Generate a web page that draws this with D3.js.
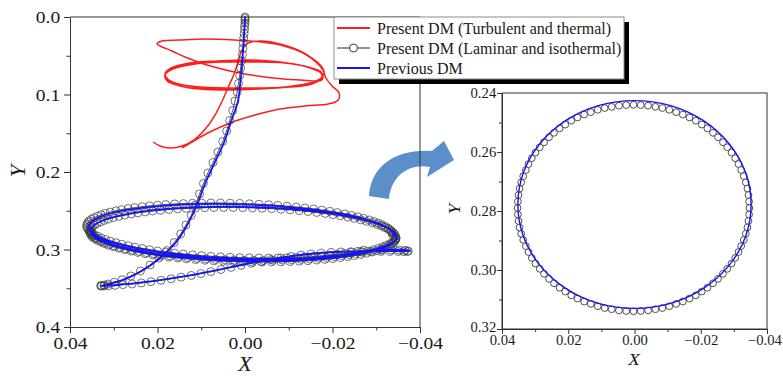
<!DOCTYPE html>
<html>
<head>
<meta charset="utf-8">
<script src="https://cdn.jsdelivr.net/npm/d3@7"></script>
<style>
  body { margin: 0; background: #fff; }
</style>
</head>
<body>
<svg id="chart" width="783" height="377"></svg>
<script>
// ---------- data ----------
// Present DM, laminar & isothermal: full trajectory (left panel)
const laminarPath = [
  [0.0000,0.0000],[0.0000,0.0019],[0.0000,0.0045],[0.0000,0.0077],[0.0001,0.0116],[0.0001,0.0161],[0.0002,0.0213],[0.0003,0.0271],
  [0.0004,0.0335],[0.0005,0.0406],[0.0006,0.0484],[0.0008,0.0568],[0.0010,0.0658],[0.0012,0.0755],[0.0015,0.0858],[0.0018,0.0968],
  [0.0023,0.1084],[0.0028,0.1206],[0.0035,0.1335],[0.0042,0.1471],[0.0051,0.1606],[0.0062,0.1742],[0.0073,0.1877],[0.0085,0.2013],
  [0.0095,0.2148],[0.0104,0.2284],[0.0113,0.2426],[0.0123,0.2561],[0.0135,0.2684],[0.0147,0.2800],[0.0162,0.2910],[0.0178,0.3013],
  [0.0197,0.3110],[0.0217,0.3200],[0.0239,0.3277],[0.0261,0.3342],[0.0281,0.3391],[0.0299,0.3423],[0.0313,0.3445],[0.0322,0.3458],
  [0.0328,0.3465],[0.0330,0.3468],[0.0328,0.3471],[0.0322,0.3471],[0.0312,0.3468],[0.0297,0.3463],
  [0.0279,0.3453],[0.0258,0.3445],[0.0237,0.3432],[0.0215,0.3415],[0.0192,0.3397],[0.0169,0.3378],[0.0146,0.3357],[0.0123,0.3335],
  [0.0101,0.3311],[0.0078,0.3285],[0.0055,0.3258],[0.0032,0.3231],[0.0009,0.3204],[-0.0014,0.3178],[-0.0037,0.3154],[-0.0059,0.3130],
  [-0.0082,0.3110],[-0.0105,0.3090],[-0.0128,0.3073],[-0.0151,0.3059],[-0.0174,0.3047],[-0.0197,0.3039],[-0.0219,0.3032],[-0.0242,0.3028],
  [-0.0265,0.3026],[-0.0288,0.3025],[-0.0311,0.3025],[-0.0331,0.3025],[-0.0350,0.3026],[-0.0363,0.3027],[-0.0371,0.3026],[-0.0373,0.3019],
  [-0.0366,0.3010],[-0.0352,0.3006],[-0.0334,0.3006],[-0.0313,0.3006],
  [-0.0271,0.3010],[-0.0258,0.3024],[-0.0243,0.3039],[-0.0228,0.3051],[-0.0211,0.3063],[-0.0194,0.3073],[-0.0176,0.3083],[-0.0157,0.3091],
  [-0.0137,0.3098],[-0.0117,0.3102],[-0.0096,0.3107],[-0.0075,0.3109],[-0.0054,0.3110],[-0.0032,0.3110],[-0.0010,0.3108],[0.0012,0.3105],
  [0.0034,0.3100],[0.0056,0.3094],[0.0078,0.3088],[0.0099,0.3079],[0.0120,0.3069],[0.0141,0.3058],[0.0161,0.3046],[0.0181,0.3033],
  [0.0200,0.3019],[0.0218,0.3003],[0.0235,0.2987],[0.0252,0.2969],[0.0267,0.2951],[0.0282,0.2932],[0.0295,0.2912],[0.0308,0.2892],
  [0.0319,0.2871],[0.0329,0.2850],[0.0337,0.2828],[0.0345,0.2806],[0.0351,0.2784],[0.0356,0.2762],[0.0359,0.2739],[0.0361,0.2717],
  [0.0362,0.2695],[0.0361,0.2673],[0.0359,0.2651],[0.0356,0.2630],[0.0351,0.2610],[0.0345,0.2590],[0.0337,0.2570],[0.0329,0.2552],
  [0.0319,0.2533],[0.0308,0.2517],[0.0295,0.2500],[0.0282,0.2486],[0.0267,0.2471],[0.0252,0.2459],[0.0235,0.2447],[0.0218,0.2437],
  [0.0200,0.2428],[0.0181,0.2419],[0.0161,0.2412],[0.0141,0.2408],[0.0120,0.2403],[0.0099,0.2401],[0.0078,0.2400],[0.0056,0.2400],
  [0.0034,0.2402],[0.0012,0.2405],[-0.0010,0.2410],[-0.0032,0.2416],[-0.0054,0.2422],[-0.0075,0.2431],[-0.0096,0.2441],[-0.0117,0.2452],
  [-0.0137,0.2464],[-0.0157,0.2477],[-0.0176,0.2492],[-0.0194,0.2507],[-0.0211,0.2523],[-0.0228,0.2541],[-0.0243,0.2559],[-0.0258,0.2578],
  [-0.0271,0.2598],[-0.0284,0.2619],[-0.0295,0.2639],[-0.0305,0.2660],[-0.0313,0.2682],[-0.0321,0.2704],[-0.0327,0.2726],[-0.0332,0.2748],
  [-0.0335,0.2771],[-0.0337,0.2793],[-0.0338,0.2815],
  [-0.0345,0.2850],[-0.0344,0.2872],[-0.0342,0.2894],[-0.0339,0.2915],[-0.0334,0.2936],[-0.0328,0.2956],[-0.0320,0.2976],[-0.0312,0.2995],
  [-0.0302,0.3014],[-0.0291,0.3032],[-0.0278,0.3048],[-0.0265,0.3064],[-0.0250,0.3079],[-0.0235,0.3092],[-0.0218,0.3105],[-0.0201,0.3117],
  [-0.0183,0.3127],[-0.0164,0.3136],[-0.0144,0.3144],[-0.0124,0.3150],[-0.0103,0.3155],[-0.0082,0.3159],[-0.0061,0.3161],[-0.0039,0.3162],
  [-0.0017,0.3162],[0.0005,0.3160],[0.0027,0.3156],[0.0049,0.3152],[0.0071,0.3147],[0.0092,0.3139],[0.0113,0.3131],[0.0134,0.3120],
  [0.0154,0.3110],[0.0174,0.3098],[0.0193,0.3085],[0.0211,0.3069],[0.0228,0.3055],[0.0245,0.3038],[0.0260,0.3021],[0.0275,0.3002],
  [0.0288,0.2984],[0.0301,0.2964],[0.0312,0.2944],[0.0322,0.2923],[0.0330,0.2902],[0.0338,0.2880],[0.0344,0.2858],[0.0349,0.2837],
  [0.0352,0.2814],[0.0354,0.2792],[0.0355,0.2770],[0.0354,0.2748],[0.0352,0.2726],[0.0349,0.2705],[0.0344,0.2684],[0.0338,0.2664],
  [0.0330,0.2644],[0.0322,0.2625],[0.0312,0.2606],[0.0301,0.2589],[0.0288,0.2572],[0.0275,0.2556],[0.0260,0.2541],[0.0245,0.2528],
  [0.0228,0.2515],[0.0211,0.2503],[0.0193,0.2494],[0.0174,0.2484],[0.0154,0.2476],[0.0134,0.2470],[0.0113,0.2465],[0.0092,0.2461],
  [0.0071,0.2459],[0.0049,0.2458],[0.0027,0.2458],[0.0005,0.2460],[-0.0017,0.2464],[-0.0039,0.2468],[-0.0061,0.2473],[-0.0082,0.2481],
  [-0.0103,0.2489],[-0.0124,0.2500],[-0.0144,0.2510],[-0.0164,0.2522],[-0.0183,0.2535],[-0.0201,0.2551],[-0.0218,0.2565],[-0.0235,0.2582],
  [-0.0250,0.2599],[-0.0265,0.2618],[-0.0278,0.2636],[-0.0291,0.2656],[-0.0302,0.2676],[-0.0312,0.2697],[-0.0320,0.2718],[-0.0328,0.2740],
  [-0.0334,0.2762],[-0.0339,0.2783],[-0.0342,0.2806],[-0.0344,0.2828],[-0.0345,0.2850],
  [-0.0345,0.2864],[-0.0342,0.2885],[-0.0337,0.2906],[-0.0331,0.2927],[-0.0323,0.2947],[-0.0315,0.2966],[-0.0305,0.2985],[-0.0294,0.3003],
  [-0.0281,0.3020],[-0.0268,0.3036],[-0.0253,0.3052],[-0.0238,0.3066],[-0.0221,0.3079],[-0.0204,0.3091],[-0.0186,0.3102],[-0.0167,0.3111],
  [-0.0147,0.3120],[-0.0127,0.3126],[-0.0106,0.3132],[-0.0085,0.3136],[-0.0064,0.3139],[-0.0042,0.3141],[-0.0020,0.3141],[0.0002,0.3140],
  [0.0024,0.3137],[0.0046,0.3133],[0.0068,0.3129],[0.0089,0.3122],[0.0110,0.3114],[0.0131,0.3104],[0.0151,0.3094],[0.0171,0.3083],
  [0.0190,0.3070],[0.0208,0.3055],[0.0225,0.3041],[0.0242,0.3024],[0.0257,0.3008],[0.0272,0.2990],[0.0285,0.2972],[0.0298,0.2953],
  [0.0309,0.2933],[0.0319,0.2912],[0.0327,0.2891],[0.0335,0.2869],[0.0341,0.2848],[0.0346,0.2827],[0.0349,0.2804],[0.0351,0.2782],
  [0.0352,0.2760]
];

// Previous DM: full trajectory (left panel)
const previousPath = [
  [0.0000,0.0000],[0.0000,0.0045],[0.0001,0.0116],[0.0002,0.0213],[0.0003,0.0335],[0.0005,0.0484],[0.0007,0.0658],[0.0011,0.0858],
  [0.0016,0.1084],[0.0031,0.1335],[0.0047,0.1606],[0.0069,0.1877],[0.0091,0.2148],[0.0110,0.2426],[0.0132,0.2684],[0.0158,0.2910],
  [0.0194,0.3110],[0.0236,0.3277],[0.0278,0.3391],[0.0310,0.3445],[0.0326,0.3465],[0.0329,0.3470],[0.0320,0.3467],
  [0.0297,0.3459],[0.0258,0.3441],[0.0215,0.3411],[0.0169,0.3374],[0.0123,0.3331],[0.0078,0.3281],[0.0032,0.3227],[-0.0014,0.3174],
  [-0.0059,0.3126],[-0.0105,0.3086],[-0.0151,0.3055],[-0.0197,0.3035],[-0.0242,0.3024],[-0.0288,0.3021],[-0.0331,0.3021],[-0.0363,0.3022],
  [-0.0378,0.3018],[-0.0370,0.3008],[-0.0345,0.3003],[-0.0310,0.3003],
  [-0.0275,0.3022],[-0.0247,0.3051],[-0.0215,0.3075],[-0.0180,0.3095],[-0.0141,0.3110],[-0.0100,0.3119],[-0.0058,0.3122],[-0.0014,0.3120],
  [0.0030,0.3112],[0.0074,0.3100],[0.0116,0.3081],[0.0157,0.3058],[0.0196,0.3031],[0.0231,0.2999],[0.0263,0.2963],[0.0291,0.2924],
  [0.0315,0.2883],[0.0333,0.2840],[0.0347,0.2796],[0.0355,0.2751],[0.0358,0.2707],[0.0355,0.2663],[0.0347,0.2622],[0.0333,0.2582],
  [0.0315,0.2545],[0.0291,0.2512],[0.0263,0.2483],[0.0231,0.2459],[0.0196,0.2440],[0.0157,0.2424],[0.0116,0.2415],[0.0074,0.2412],
  [0.0030,0.2414],[-0.0014,0.2422],[-0.0058,0.2434],[-0.0100,0.2453],[-0.0141,0.2476],[-0.0180,0.2504],[-0.0215,0.2535],[-0.0247,0.2571],
  [-0.0275,0.2610],[-0.0299,0.2651],[-0.0317,0.2694],[-0.0331,0.2738],[-0.0339,0.2783],[-0.0342,0.2827],
  [-0.0347,0.2840],[-0.0344,0.2884],[-0.0336,0.2926],[-0.0322,0.2966],[-0.0304,0.3004],[-0.0280,0.3038],[-0.0252,0.3069],[-0.0220,0.3095],
  [-0.0185,0.3117],[-0.0146,0.3134],[-0.0105,0.3145],[-0.0063,0.3151],[-0.0019,0.3152],[0.0025,0.3146],[0.0069,0.3137],[0.0111,0.3121],
  [0.0152,0.3100],[0.0191,0.3075],[0.0226,0.3045],[0.0258,0.3011],[0.0286,0.2974],[0.0310,0.2934],[0.0328,0.2892],[0.0342,0.2848],
  [0.0350,0.2804],[0.0353,0.2760],[0.0350,0.2716],[0.0342,0.2674],[0.0328,0.2634],[0.0310,0.2596],[0.0286,0.2562],[0.0258,0.2531],
  [0.0226,0.2505],[0.0191,0.2484],[0.0152,0.2466],[0.0111,0.2455],[0.0069,0.2449],[0.0025,0.2448],[-0.0019,0.2454],[-0.0063,0.2463],
  [-0.0105,0.2479],[-0.0146,0.2500],[-0.0185,0.2525],[-0.0220,0.2555],[-0.0252,0.2589],[-0.0280,0.2626],[-0.0304,0.2666],[-0.0322,0.2708],
  [-0.0336,0.2752],[-0.0344,0.2796],[-0.0347,0.2840],
  [-0.0348,0.2858],[-0.0340,0.2900],[-0.0326,0.2941],[-0.0308,0.2979],[-0.0284,0.3014],[-0.0256,0.3046],[-0.0224,0.3073],[-0.0189,0.3096],
  [-0.0150,0.3114],[-0.0109,0.3126],[-0.0067,0.3133],[-0.0023,0.3135],[0.0021,0.3131],[0.0065,0.3123],[0.0107,0.3108],[0.0148,0.3088],
  [0.0187,0.3064],[0.0222,0.3035],[0.0254,0.3002],[0.0282,0.2966],[0.0306,0.2927],[0.0324,0.2885],[0.0338,0.2842],[0.0346,0.2798],
  [0.0349,0.2754]
];

// Present DM, turbulent & thermal (left panel)
const turbulentPath = [
  [0.0210,0.1613],[0.0194,0.1665],[0.0171,0.1690],[0.0144,0.1665],[0.0114,0.1574],[0.0087,0.1419],[0.0066,0.1239],[0.0050,0.1058],
  [0.0037,0.0890],[0.0025,0.0735],[0.0016,0.0581],[0.0009,0.0452],[0.0000,0.0361],[-0.0014,0.0323],[-0.0039,0.0310],
  [-0.0080,0.0348],[-0.0121,0.0426],[-0.0153,0.0529],[-0.0174,0.0632],[-0.0181,0.0723],[-0.0171,0.0800],
  [-0.0137,0.0865],[-0.0091,0.0903],[-0.0034,0.0929],[0.0030,0.0929],[0.0091,0.0916],[0.0142,0.0877],[0.0174,0.0813],[0.0183,0.0735],
  [0.0169,0.0658],[0.0126,0.0594],[0.0062,0.0568],[-0.0011,0.0555],[-0.0080,0.0581],[-0.0135,0.0632],[-0.0169,0.0697],[-0.0176,0.0774],
  [-0.0149,0.0852],[-0.0098,0.0903],[-0.0030,0.0929],[0.0039,0.0942],[0.0103,0.0929],[0.0149,0.0890],[0.0178,0.0826],[0.0183,0.0748],
  [0.0165,0.0671],[0.0114,0.0606],[0.0046,0.0581],[-0.0025,0.0581],[-0.0091,0.0594],[-0.0144,0.0645],[-0.0174,0.0710],[-0.0176,0.0787],
  [-0.0153,0.0865],[-0.0103,0.0903],[-0.0034,0.0916],[0.0034,0.0916],[0.0103,0.0903],[0.0153,0.0865],[0.0181,0.0800],[0.0181,0.0723],
  [0.0158,0.0645],[0.0107,0.0594],[0.0039,0.0568],[-0.0030,0.0568],[-0.0096,0.0594],[-0.0149,0.0658],[-0.0176,0.0735],
  [-0.0176,0.0813],[-0.0126,0.0813],[-0.0064,0.0787],[0.0011,0.0723],[0.0087,0.0619],[0.0137,0.0516],[0.0167,0.0439],[0.0194,0.0374],
  [0.0201,0.0348],[0.0190,0.0310],[0.0149,0.0297],[0.0091,0.0284],[0.0023,0.0297],[-0.0039,0.0323],[-0.0089,0.0374],[-0.0133,0.0465],
  [-0.0162,0.0581],[-0.0178,0.0684],[-0.0185,0.0787],
  [-0.0199,0.0890],[-0.0215,0.0981],[-0.0213,0.1071],[-0.0190,0.1123],[-0.0137,0.1148],[-0.0080,0.1187],[-0.0023,0.1265],[0.0034,0.1368],
  [0.0085,0.1497],[0.0121,0.1613],[0.0144,0.1690]
];

// Settled orbit, laminar & isothermal (right panel)
const laminarOrbit = [
  [0.0353,0.2790],[0.0352,0.2768],[0.0350,0.2746],[0.0347,0.2724],[0.0342,0.2703],[0.0336,0.2682],[0.0328,0.2661],[0.0320,0.2641],
  [0.0310,0.2621],[0.0299,0.2602],[0.0286,0.2584],[0.0273,0.2567],[0.0258,0.2550],[0.0243,0.2535],[0.0226,0.2520],[0.0209,0.2507],
  [0.0191,0.2494],[0.0172,0.2483],[0.0152,0.2473],[0.0132,0.2465],[0.0111,0.2457],[0.0090,0.2451],[0.0069,0.2447],[0.0047,0.2443],
  [0.0025,0.2441],[0.0003,0.2440],[-0.0019,0.2441],[-0.0041,0.2443],[-0.0063,0.2447],[-0.0084,0.2451],[-0.0105,0.2457],[-0.0126,0.2465],
  [-0.0146,0.2473],[-0.0166,0.2483],[-0.0185,0.2494],[-0.0203,0.2507],[-0.0220,0.2520],[-0.0237,0.2535],[-0.0252,0.2550],[-0.0267,0.2567],
  [-0.0280,0.2584],[-0.0293,0.2602],[-0.0304,0.2621],[-0.0314,0.2641],[-0.0322,0.2661],[-0.0330,0.2682],[-0.0336,0.2703],[-0.0341,0.2724],
  [-0.0344,0.2746],[-0.0346,0.2768],[-0.0347,0.2790],[-0.0346,0.2812],[-0.0344,0.2834],[-0.0341,0.2856],[-0.0336,0.2877],[-0.0330,0.2898],
  [-0.0322,0.2919],[-0.0314,0.2939],[-0.0304,0.2959],[-0.0293,0.2978],[-0.0280,0.2996],[-0.0267,0.3013],[-0.0252,0.3030],[-0.0237,0.3045],
  [-0.0220,0.3060],[-0.0203,0.3073],[-0.0185,0.3086],[-0.0166,0.3097],[-0.0146,0.3107],[-0.0126,0.3115],[-0.0105,0.3123],[-0.0084,0.3129],
  [-0.0063,0.3133],[-0.0041,0.3137],[-0.0019,0.3139],[0.0003,0.3140],[0.0025,0.3139],[0.0047,0.3137],[0.0069,0.3133],[0.0090,0.3129],
  [0.0111,0.3123],[0.0132,0.3115],[0.0152,0.3107],[0.0172,0.3097],[0.0191,0.3086],[0.0209,0.3073],[0.0226,0.3060],[0.0243,0.3045],
  [0.0258,0.3030],[0.0273,0.3013],[0.0286,0.2996],[0.0299,0.2978],[0.0310,0.2959],[0.0320,0.2939],[0.0328,0.2919],[0.0336,0.2898],
  [0.0342,0.2877],[0.0347,0.2856],[0.0350,0.2834],[0.0352,0.2812]
];

// Settled orbit, previous DM (right panel)
const previousOrbit = [
  [0.0352,0.2778],[0.0348,0.2723],[0.0335,0.2669],[0.0314,0.2618],[0.0285,0.2571],[0.0249,0.2529],[0.0207,0.2493],[0.0160,0.2464],
  [0.0109,0.2443],[0.0055,0.2430],[0.0000,0.2426],[-0.0055,0.2430],[-0.0109,0.2443],[-0.0160,0.2464],[-0.0207,0.2493],[-0.0249,0.2529],
  [-0.0285,0.2571],[-0.0314,0.2618],[-0.0335,0.2669],[-0.0348,0.2723],[-0.0352,0.2778],[-0.0348,0.2833],[-0.0335,0.2887],[-0.0314,0.2938],
  [-0.0285,0.2985],[-0.0249,0.3027],[-0.0207,0.3063],[-0.0160,0.3092],[-0.0109,0.3113],[-0.0055,0.3126],[0.0000,0.3130],[0.0055,0.3126],
  [0.0109,0.3113],[0.0160,0.3092],[0.0207,0.3063],[0.0249,0.3027],[0.0285,0.2985],[0.0314,0.2938],[0.0335,0.2887],[0.0348,0.2833]
];

const legendLabels = [
  "Present DM (Turbulent and thermal)",
  "Present DM (Laminar and isothermal)",
  "Previous DM"
];

const mainXTicks = [0.04, 0.02, 0.00, -0.02, -0.04];
const mainXMinor = [0.03, 0.01, -0.01, -0.03];
const mainYTicks = [0.0, 0.1, 0.2, 0.3, 0.4];
const mainYMinor = [0.05, 0.15, 0.25, 0.35];
const zoomXTicks = [0.04, 0.02, 0.00, -0.02, -0.04];
const zoomXMinor = [0.03, 0.01, -0.01, -0.03];
const zoomYTicks = [0.24, 0.26, 0.28, 0.30, 0.32];
const zoomYMinor = [0.25, 0.27, 0.29, 0.31];

// ---------- drawing ----------
const FONT = "'Liberation Serif', 'Times New Roman', Times, serif";
const RED = "#ff1e1e", BLUE = "#1414f5", MARK = "#3c3c3c", ARROW = "#5b8fca";
const svg = d3.select("#chart");

const main = { left: 70, right: 420, top: 17, bottom: 327 };
const zoom = { left: 502, right: 767, top: 93, bottom: 329 };

const xMain = d3.scaleLinear().domain([0.04, -0.04]).range([main.left, main.right]);
const yMain = d3.scaleLinear().domain([0, 0.4]).range([main.top, main.bottom]);
const xZoom = d3.scaleLinear().domain([0.04, -0.04]).range([zoom.left, zoom.right]);
const yZoom = d3.scaleLinear().domain([0.24, 0.32]).range([zoom.top, zoom.bottom]);

// curved arrow pointing from the orbit to the enlarged view
svg.append("path")
  .attr("d", "M369,196 C371,166 395,149 432,151 L444,141 L454,160 L427,177 L430,167 C409,163 391,176 389,199 Z")
  .attr("fill", ARROW);

function drawAxes(g, x, y, box, o) {
  const bottom = g.append("g").attr("transform", `translate(0,${box.bottom})`)
    .call(d3.axisBottom(x).tickValues(o.xTicks).tickFormat(d3.format(".2f")).tickSize(o.major).tickSizeOuter(0));
  g.append("g").attr("transform", `translate(0,${box.bottom})`)
    .call(d3.axisBottom(x).tickValues(o.xMinor).tickFormat("").tickSize(o.minor))
    .select(".domain").remove();
  const left = g.append("g").attr("transform", `translate(${box.left},0)`)
    .call(d3.axisLeft(y).tickValues(o.yTicks).tickFormat(d3.format(o.yFmt)).tickSize(o.major).tickSizeOuter(0));
  g.append("g").attr("transform", `translate(${box.left},0)`)
    .call(d3.axisLeft(y).tickValues(o.yMinor).tickFormat("").tickSize(o.minor))
    .select(".domain").remove();
  g.selectAll(".domain, .tick line").attr("stroke", "#333").attr("stroke-width", 1);
  bottom.selectAll("text").attr("y", o.xLabelY).attr("dy", "0.71em");
  left.selectAll("text").attr("x", o.yLabelX).attr("dy", "0.34em");
  g.selectAll(".tick text")
    .attr("font-family", FONT).attr("font-size", o.font).attr("fill", "#1a1a1a")
    .attr("transform", `scale(${o.stretch},1)`);
  return { bottom, left };
}

const gMain = svg.append("g");
const gZoom = svg.append("g");

// data layers: left panel
gMain.append("path").datum(turbulentPath)
  .attr("d", d3.line().x(d => xMain(d[0])).y(d => yMain(d[1])).curve(d3.curveCatmullRom.alpha(0.5)))
  .attr("fill", "none").attr("stroke", RED).attr("stroke-width", 1.5);
gMain.append("path").datum(laminarPath)
  .attr("d", d3.line().x(d => xMain(d[0])).y(d => yMain(d[1])))
  .attr("fill", "none").attr("stroke", "#2a2a2a").attr("stroke-width", 0.8);
gMain.append("g").selectAll("circle").data(laminarPath).join("circle")
  .attr("cx", d => xMain(d[0])).attr("cy", d => yMain(d[1])).attr("r", 4)
  .attr("fill", "none").attr("stroke", MARK).attr("stroke-width", 0.9).attr("stroke-opacity", 0.8);
gMain.append("path").datum(previousPath)
  .attr("d", d3.line().x(d => xMain(d[0])).y(d => yMain(d[1])).curve(d3.curveCatmullRom.alpha(0.5)))
  .attr("fill", "none").attr("stroke", BLUE).attr("stroke-width", 1.8);

// data layers: right panel
gZoom.append("path").datum(laminarOrbit)
  .attr("d", d3.line().x(d => xZoom(d[0])).y(d => yZoom(d[1])).curve(d3.curveLinearClosed))
  .attr("fill", "none").attr("stroke", "#2a2a2a").attr("stroke-width", 0.8);
gZoom.append("g").selectAll("circle").data(laminarOrbit).join("circle")
  .attr("cx", d => xZoom(d[0])).attr("cy", d => yZoom(d[1])).attr("r", 3.4)
  .attr("fill", "#fff").attr("stroke", MARK).attr("stroke-width", 0.9);
gZoom.append("path").datum(previousOrbit)
  .attr("d", d3.line().x(d => xZoom(d[0])).y(d => yZoom(d[1])).curve(d3.curveCatmullRomClosed.alpha(0.5)))
  .attr("fill", "none").attr("stroke", BLUE).attr("stroke-width", 1.4);

// axes and frames
drawAxes(gMain, xMain, yMain, main, {
  xTicks: mainXTicks, xMinor: mainXMinor, yTicks: mainYTicks, yMinor: mainYMinor,
  yFmt: ".1f", major: 6, minor: 3.5, font: 17, stretch: 1.15, xLabelY: 10, yLabelX: -8.5
});
gMain.append("line").attr("x1", main.left).attr("x2", main.right).attr("y1", main.top).attr("y2", main.top)
  .attr("stroke", "#333");
gMain.append("line").attr("x1", main.right).attr("x2", main.right).attr("y1", main.top).attr("y2", main.bottom)
  .attr("stroke", "#333");

const zoomAxes = drawAxes(gZoom, xZoom, yZoom, zoom, {
  xTicks: zoomXTicks, xMinor: zoomXMinor, yTicks: zoomYTicks, yMinor: zoomYMinor,
  yFmt: ".2f", major: 5, minor: 3, font: 14, stretch: 1.05, xLabelY: 6, yLabelX: -5.5
});
// keep the end labels clear of the page edge and of the corner label
zoomAxes.bottom.selectAll(".tick text").filter(d => d === -0.04).attr("x", -2.5);
zoomAxes.left.selectAll(".tick text").filter(d => d === 0.32).attr("dy", "0.2em");
gZoom.append("rect").attr("x", zoom.left).attr("y", zoom.top)
  .attr("width", zoom.right - zoom.left).attr("height", zoom.bottom - zoom.top)
  .attr("fill", "none").attr("stroke", "#333");

// axis titles
function title(x, y, text, size, rotate) {
  svg.append("text")
    .attr("transform", `translate(${x},${y})` + (rotate ? " rotate(-90)" : "") + " scale(1.15,1)")
    .attr("text-anchor", "middle").attr("dy", "0.35em")
    .attr("font-family", FONT).attr("font-size", size).attr("font-style", "italic")
    .attr("fill", "#1a1a1a").text(text);
}
title(245, 364, "X", 20);
title(18, 171, "Y", 20, true);
title(634, 359, "X", 16.5);
title(454, 209, "Y", 17, true);

// legend
const lg = svg.append("g");
const lgBox = { x: 334, y: 17, w: 290, h: 62 };
lg.append("rect").attr("x", lgBox.x + 5).attr("y", lgBox.y + 5).attr("width", lgBox.w).attr("height", lgBox.h)
  .attr("fill", "#000");
lg.append("rect").attr("x", lgBox.x).attr("y", lgBox.y).attr("width", lgBox.w).attr("height", lgBox.h)
  .attr("fill", "#fff").attr("stroke", "#8c8c8c").attr("stroke-width", 1);
const rowY = [28, 48, 68];
const rowColor = [RED, "#2a2a2a", BLUE];
legendLabels.forEach((label, i) => {
  lg.append("line").attr("x1", 337).attr("x2", 370).attr("y1", rowY[i]).attr("y2", rowY[i])
    .attr("stroke", rowColor[i]).attr("stroke-width", i === 1 ? 1 : 1.8);
  if (i === 1) {
    lg.append("circle").attr("cx", 353.5).attr("cy", rowY[i]).attr("r", 4)
      .attr("fill", "#fff").attr("stroke", MARK).attr("stroke-width", 1);
  }
  lg.append("text").attr("x", 377).attr("y", rowY[i]).attr("dy", "0.35em")
    .attr("font-family", FONT).attr("font-size", 16).attr("fill", "#1a1a1a").text(label);
});
</script>
</body>
</html>
